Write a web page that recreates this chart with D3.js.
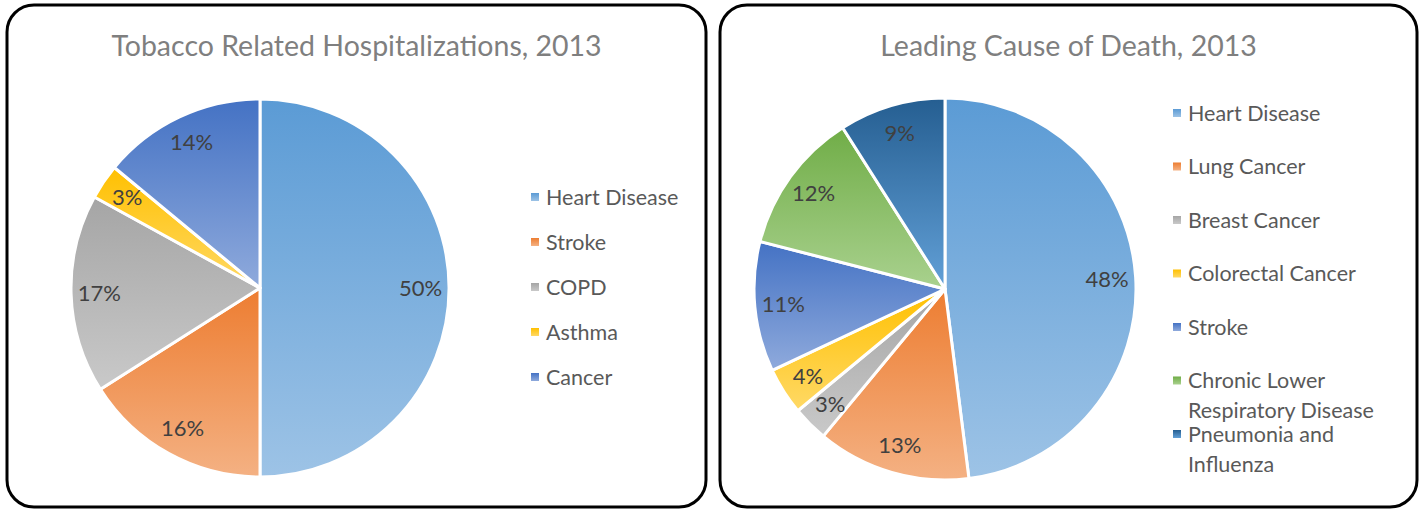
<!DOCTYPE html>
<html>
<head>
<meta charset="utf-8">
<script src="https://cdn.jsdelivr.net/npm/d3@7"></script>
<style>
  html, body { margin: 0; padding: 0; background: #ffffff; }
  svg { display: block; }
  text { font-family: "Lato", "Open Sans", "DejaVu Sans", sans-serif; }
</style>
</head>
<body>
<svg id="chart" width="1424" height="510"></svg>
<script>
// ---- data ----
const hospTitle = "Tobacco Related Hospitalizations, 2013";
const hospCategories = ["Heart Disease", "Stroke", "COPD", "Asthma", "Cancer"];
const hospValues = [50, 16, 17, 3, 14];

const deathTitle = "Leading Cause of Death, 2013";
const deathCategories = ["Heart Disease", "Lung Cancer", "Breast Cancer", "Colorectal Cancer",
                         "Stroke", "Chronic Lower Respiratory Disease", "Pneumonia and Influenza"];
const deathValues = [48, 13, 3, 4, 11, 12, 9];

// Office theme palette
const hospColors = ["#5B9BD5", "#ED7D31", "#A5A5A5", "#FFC000", "#4472C4"];
const deathColors = ["#5B9BD5", "#ED7D31", "#A5A5A5", "#FFC000", "#4472C4", "#70AD47", "#255E91"];

// ---- drawing ----
const svg = d3.select("#chart");
const defs = svg.append("defs");

// lighter tint: raise HSL lightness part of the way to white
function tint(c, amt) {
  const h = d3.hsl(c);
  h.l = h.l + (1 - h.l) * amt;
  return h.formatHex();
}

function drawPanel(cfg) {
  const g = svg.append("g");

  g.append("rect")
    .attr("x", cfg.box[0]).attr("y", cfg.box[1])
    .attr("width", cfg.box[2]).attr("height", cfg.box[3])
    .attr("rx", 27).attr("ry", 27)
    .attr("fill", "#ffffff")
    .attr("stroke", "#000000")
    .attr("stroke-width", 3);

  g.append("text")
    .attr("x", cfg.box[0] + cfg.box[2] / 2)
    .attr("y", 56)
    .attr("text-anchor", "middle")
    .attr("fill", "#7f7f7f")
    .style("font-size", cfg.titleSize + "px")
    .text(cfg.title);

  const color = d3.scaleOrdinal().domain(cfg.categories).range(cfg.colors);

  // one vertical gradient per slice, dark at top, lighter at bottom
  cfg.categories.forEach((c, i) => {
    const grad = defs.append("linearGradient")
      .attr("id", cfg.id + "-g" + i)
      .attr("x1", 0).attr("y1", 0).attr("x2", 0).attr("y2", 1);
    grad.append("stop").attr("offset", "0%").attr("stop-color", color(c));
    grad.append("stop").attr("offset", "100%").attr("stop-color", tint(color(c), 0.4));
  });

  const pie = d3.pie().sort(null).value(d => d.v);
  const data = cfg.categories.map((c, i) => ({ c, v: cfg.values[i], i }));
  const arcs = pie(data);
  const arc = d3.arc().innerRadius(0).outerRadius(cfg.r);
  const labelArc = d3.arc().innerRadius(cfg.r * 0.85).outerRadius(cfg.r * 0.85);

  const pg = g.append("g").attr("transform", `translate(${cfg.cx},${cfg.cy})`);
  pg.selectAll("path.slice")
    .data(arcs)
    .join("path")
    .attr("class", "slice")
    .attr("d", arc)
    .attr("fill", d => `url(#${cfg.id}-g${d.data.i})`)
    .attr("stroke", "#ffffff")
    .attr("stroke-width", 3)
    .attr("stroke-linejoin", "round");

  const total = d3.sum(cfg.values);
  pg.selectAll("text.lbl")
    .data(arcs)
    .join("text")
    .attr("class", "lbl")
    .attr("transform", d => `translate(${labelArc.centroid(d)})`)
    .attr("text-anchor", "middle")
    .attr("dy", "0.35em")
    .attr("fill", "#404040")
    .style("font-size", "22px")
    .text(d => d3.format(".0%")(d.data.v / total));

  // legend
  const lg = g.append("g").attr("transform", `translate(${cfg.legendX},${cfg.legendY})`);
  const items = lg.selectAll("g.item")
    .data(cfg.categories)
    .join("g")
    .attr("class", "item")
    .attr("transform", (d, i) => `translate(0,${i * cfg.legendStep})`);

  items.append("rect")
    .attr("x", -15).attr("y", -4)
    .attr("width", 8).attr("height", 8)
    .attr("fill", (d, i) => `url(#${cfg.id}-g${i})`);

  items.each(function (d) {
    const t = d3.select(this).append("text")
      .attr("x", 0).attr("y", 0)
      .attr("fill", "#595959")
      .style("font-size", cfg.legendSize + "px");
    // word wrap within the legend width
    const words = d.split(" ");
    let line = [];
    let tspan = t.append("tspan").attr("x", 0).attr("dy", "0.35em");
    words.forEach(w => {
      line.push(w);
      tspan.text(line.join(" "));
      if (tspan.node().getComputedTextLength() > cfg.legendWrap && line.length > 1) {
        line.pop();
        tspan.text(line.join(" "));
        line = [w];
        tspan = t.append("tspan").attr("x", 0).attr("dy", cfg.lineHeight + "px").text(w);
      }
    });
  });
}

drawPanel({
  id: "hosp", title: hospTitle, categories: hospCategories, values: hospValues, colors: hospColors,
  box: [7, 5, 699, 502], titleSize: 28.5,
  cx: 260, cy: 288, r: 189,
  legendX: 546, legendY: 197, legendStep: 45, legendSize: 21.5, legendWrap: 215, lineHeight: 30
});

drawPanel({
  id: "death", title: deathTitle, categories: deathCategories, values: deathValues, colors: deathColors,
  box: [720, 5, 697, 502], titleSize: 28.5,
  cx: 945, cy: 289, r: 191,
  legendX: 1188, legendY: 113, legendStep: 53.5, legendSize: 21.5, legendWrap: 215, lineHeight: 30
});
</script>
</body>
</html>
